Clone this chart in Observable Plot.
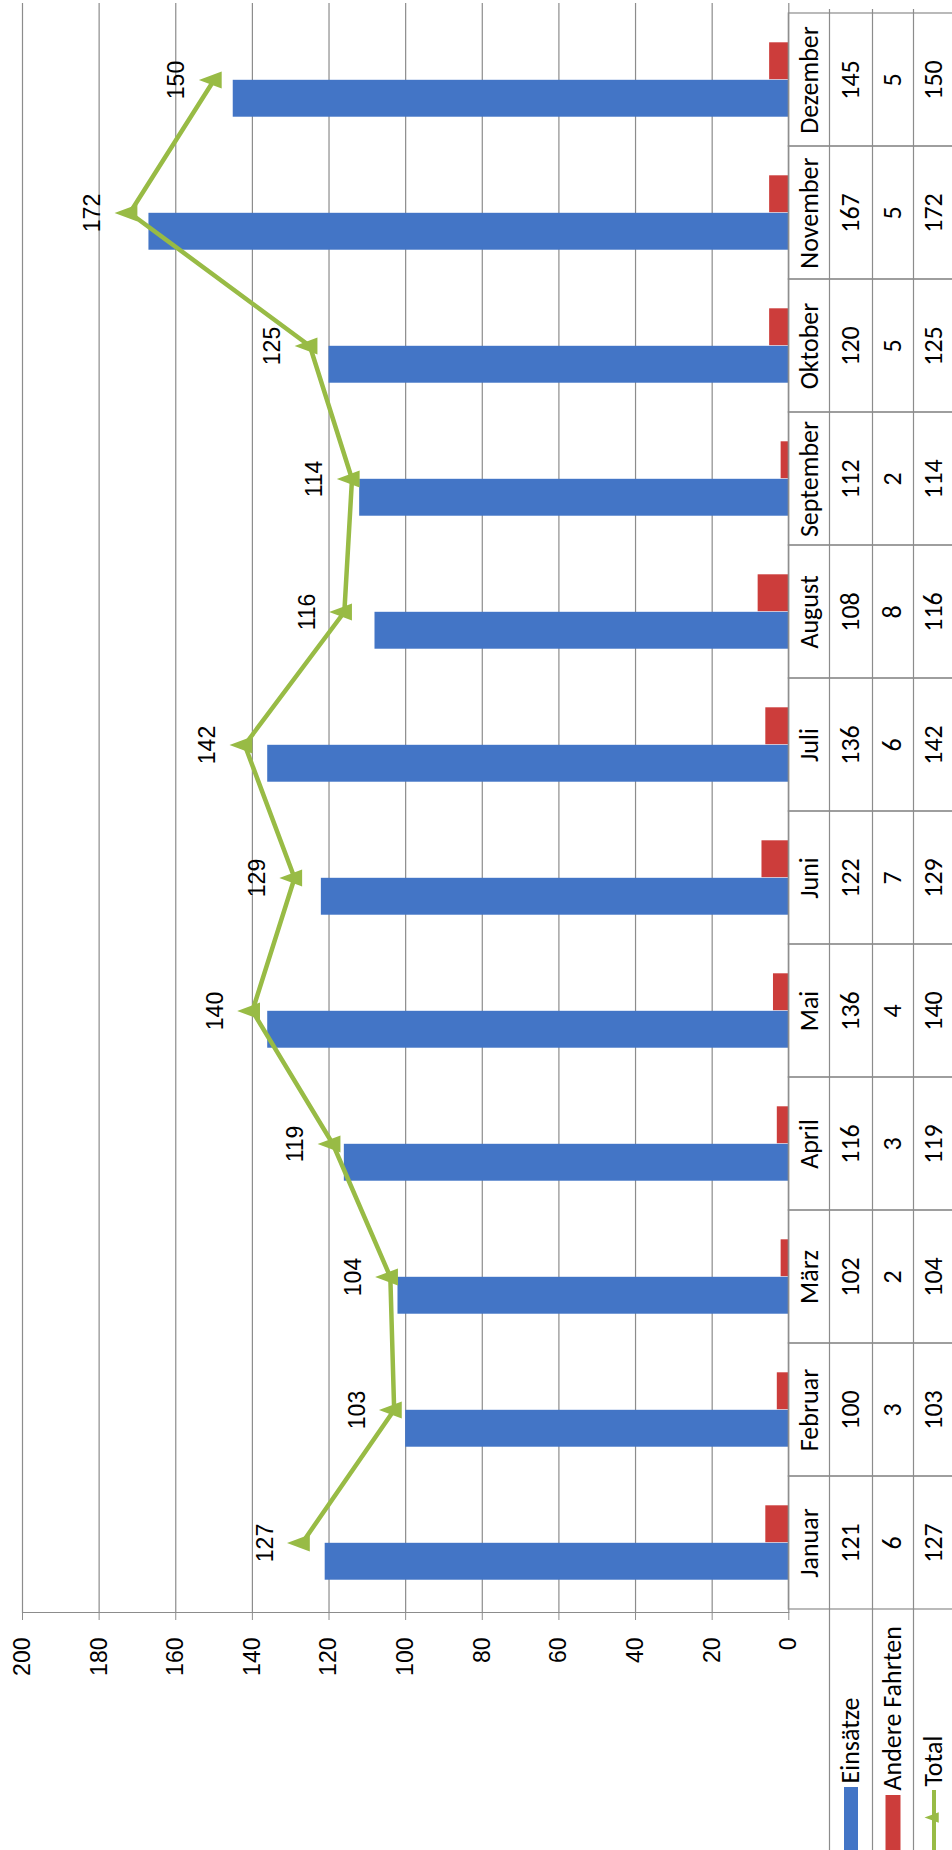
<!DOCTYPE html>
<html>
<head>
<meta charset="utf-8">
<script src="https://cdn.jsdelivr.net/npm/d3@7"></script>
<script src="https://cdn.jsdelivr.net/npm/@observablehq/plot@0.6"></script>
<style>
  html, body { margin: 0; padding: 0; background: #fff; }
  #chart svg { display: block; }
</style>
</head>
<body>
<div id="chart"></div>
<script>
// ---- data ----
const months = ["Januar", "Februar", "März", "April", "Mai", "Juni", "Juli", "August", "September", "Oktober", "November", "Dezember"];
const einsaetze = [121, 100, 102, 116, 136, 122, 136, 108, 112, 120, 167, 145];
const andereFahrten = [6, 3, 2, 3, 4, 7, 6, 8, 2, 5, 5, 5];
const total = [127, 103, 104, 119, 140, 129, 142, 116, 114, 125, 172, 150];
const valueTicks = [0, 20, 40, 60, 80, 100, 120, 140, 160, 180, 200];
const seriesNames = ["Einsätze", "Andere Fahrten", "Total"];

const rows = months.map((m, i) => ({month: m, einsaetze: einsaetze[i], andere: andereFahrten[i], total: total[i]}));

// ---- layout ----
const W = 952, H = 1850;
const mL = 22, mR = 163.7, mT = 9, mB = 238;
const xZero = W - mR;                 // pixel of value 0
const bw = (H - mT - mB) / months.length;
const gridColor = "#8c8c8c";
const blue = "#4375C6", red = "#CC3D3B", green = "#98BB45";
const tableFont = "Carlito, Lato, 'Open Sans', sans-serif";
const numFont = "'Liberation Sans', Arial, sans-serif";
const colCenter = [20.4, 62.2, 104.2, 145.2];  // offsets right of the zero line
const colLine = [40.7, 83.7, 124.7];

const triLeft = {
  draw(ctx, size) {
    const r = Math.sqrt(size / Math.PI);
    ctx.moveTo(-1.9 * r, 0);
    ctx.lineTo(0.95 * r, -1.06 * r);
    ctx.lineTo(0.95 * r, 1.06 * r);
    ctx.closePath();
  }
};

const tableText = (field, k) => Plot.text(rows, {
  y: "month", text: field, frameAnchor: "right", dx: colCenter[k],
  rotate: -90, textAnchor: "middle", lineAnchor: "middle",
  fontFamily: tableFont, fontSize: 26, fill: "#000"
});

const legendText = (name, k, start) => Plot.text([name], {
  text: d => d, frameAnchor: "bottom-right", dx: colCenter[k + 1], dy: start - (H - mB),
  rotate: -90, textAnchor: "start", lineAnchor: "middle",
  fontFamily: tableFont, fontSize: 26, fill: "#000"
});

const chart = Plot.plot({
  width: W, height: H,
  marginLeft: mL, marginRight: mR, marginTop: mT, marginBottom: mB,
  style: {fontFamily: numFont, fontSize: "23px", background: "#fff", color: "#000", overflow: "visible"},
  x: {domain: [0, 200], reverse: true, label: null},
  y: {domain: months, reverse: true, padding: 0, axis: null, label: null},
  marks: [
    Plot.gridX(valueTicks, {stroke: gridColor, strokeOpacity: 1, strokeWidth: 1.2, insetTop: -6}),
    Plot.barX(rows, {y: "month", x: "andere", fill: red, insetTop: 29.3, insetBottom: bw - 66.8}),
    Plot.barX(rows, {y: "month", x: "einsaetze", fill: blue, insetTop: 66.8, insetBottom: bw - 104.3}),
    Plot.frame({anchor: "bottom", stroke: gridColor, strokeWidth: 1.2}),
    // data table
    Plot.cell(months, {y: d => d, fill: "none", stroke: gridColor, strokeWidth: 1.2,
      insetLeft: xZero - mL, insetRight: -(W + 2 - xZero)}),
    ...colLine.map(o => Plot.ruleX([0], {dx: o, insetBottom: -mB, stroke: gridColor, strokeWidth: 1.2})),
    Plot.axisX(valueTicks, {anchor: "bottom", label: null, tickSize: 8, tickPadding: 17, tickRotate: -90,
      textAnchor: "end", fontSize: 23, fontFamily: numFont, stroke: gridColor, fill: "#000"}),
    // total line
    Plot.line(rows, {y: "month", x: "total", stroke: green, strokeWidth: 4.5}),
    Plot.dot(rows, {y: "month", x: "total", symbol: triLeft, r: 8, fill: green, stroke: "none"}),
    Plot.text(rows, {y: "month", x: "total", text: d => String(d.total), dx: -37, rotate: -90,
      fontSize: 23, fontFamily: numFont, fill: "#000"}),
    // table texts
    tableText("month", 0),
    tableText(d => String(d.einsaetze), 1),
    tableText(d => String(d.andere), 2),
    tableText(d => String(d.total), 3),
    // legend (row headers)
    legendText(seriesNames[0], 0, 1783),
    legendText(seriesNames[1], 1, 1790),
    legendText(seriesNames[2], 2, 1786),
    Plot.ruleX([0], {dx: colCenter[1], insetTop: 1787 - mT, insetBottom: -mB, stroke: blue, strokeWidth: 14}),
    Plot.ruleX([0], {dx: colCenter[2], insetTop: 1795 - mT, insetBottom: -mB, stroke: red, strokeWidth: 15}),
    Plot.ruleX([0], {dx: colCenter[3], insetTop: 1790 - mT, insetBottom: -mB, stroke: green, strokeWidth: 4}),
    Plot.dot([0], {x: d => d, frameAnchor: "bottom", dx: colCenter[3], dy: 1817 - (H - mB),
      symbol: triLeft, r: 5, fill: green, stroke: "none"})
  ]
});
document.getElementById("chart").appendChild(chart);
</script>
</body>
</html>
